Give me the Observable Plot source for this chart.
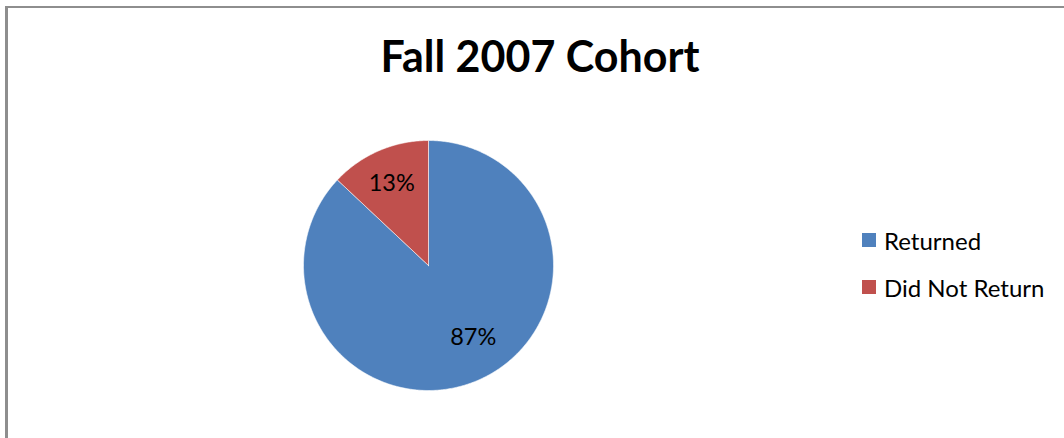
<!DOCTYPE html>
<html>
<head>
<meta charset="utf-8">
<script src="https://cdn.jsdelivr.net/npm/d3@7"></script>
<script src="https://cdn.jsdelivr.net/npm/@observablehq/plot@0.6"></script>
<style>
  html, body { margin: 0; padding: 0; background: #fff; }
  body { width: 1064px; height: 438px; overflow: hidden; position: relative; font-family: Lato, "Open Sans", sans-serif; }
  #frame { position: absolute; left: 5px; top: 6px; width: 1070px; height: 440px;
           border-left: 3px solid #8e8e8e; border-top: 2px solid #8e8e8e; box-sizing: border-box; }
  #title { position: absolute; left: 0; width: 1080px; top: 28px; text-align: center;
           font-weight: 700; font-size: 43px; line-height: 56px; color: #000; }
  #chart { position: absolute; left: 0; top: 0; }
  #legend { position: absolute; left: 862px; top: 225px; font-size: 24px; color: #000; }
  .item { display: flex; align-items: center; height: 30px; margin-bottom: 17px; white-space: nowrap; }
  .sw { width: 14px; height: 14px; margin-right: 8px; flex: none; }
</style>
</head>
<body>
<div id="frame"></div>
<div id="chart"></div>
<div id="title"></div>
<div id="legend"></div>
<script>
const title = "Fall 2007 Cohort";
const categories = ["Returned", "Did Not Return"];
const values = [87, 13];
const labels = ["87%", "13%"];
const colors = ["#4F81BD", "#C0504D"];

const W = 1064, H = 438, R = 125, CX = 428, CY = 265;

const arcs = d3.pie().sort(null).value((d, i) => values[i])(categories);

// Build slice outlines from pie angles
const pts = [];
arcs.forEach((a, i) => {
  const key = categories[i];
  pts.push({key, x: 0, y: 0});
  const n = Math.max(2, Math.ceil((a.endAngle - a.startAngle) / 0.01));
  for (let k = 0; k <= n; k++) {
    const t = a.startAngle + (a.endAngle - a.startAngle) * k / n;
    pts.push({key, x: Math.sin(t), y: Math.cos(t)});
  }
  pts.push({key, x: 0, y: 0});
});

const lr = 0.7;
const labelData = arcs.map((a, i) => {
  const m = (a.startAngle + a.endAngle) / 2;
  return {label: labels[i], x: lr * Math.sin(m), y: lr * Math.cos(m), i};
});

const plot = Plot.plot({
  width: W,
  height: H,
  margin: 0,
  x: {domain: [-CX / R, (W - CX) / R], range: [0, W], axis: null},
  y: {domain: [-(H - CY) / R, CY / R], range: [H, 0], axis: null},
  color: {domain: categories, range: colors},
  style: {background: "transparent", fontFamily: "Lato, 'Open Sans', sans-serif"},
  marks: [
    Plot.line(pts, {x: "x", y: "y", z: "key", fill: "key", stroke: "#ffffff", strokeWidth: 0.8, strokeOpacity: 0.7, curve: "linear-closed"}),
    Plot.text(labelData.filter(d => d.i === 0), {x: "x", y: "y", text: "label", fontSize: 23.5, fill: "#000", dx: 10, dy: -8}),
    Plot.text(labelData.filter(d => d.i === 1), {x: "x", y: "y", text: "label", fontSize: 23.5, fill: "#000", dx: -2, dy: -2})
  ]
});
document.getElementById("chart").appendChild(plot);

document.getElementById("title").textContent = title;
const legend = document.getElementById("legend");
categories.forEach((c, i) => {
  const item = document.createElement("div");
  item.className = "item";
  const sw = document.createElement("span");
  sw.className = "sw";
  sw.style.background = colors[i];
  const tx = document.createElement("span");
  tx.textContent = c;
  item.appendChild(sw);
  item.appendChild(tx);
  legend.appendChild(item);
});
</script>
</body>
</html>
